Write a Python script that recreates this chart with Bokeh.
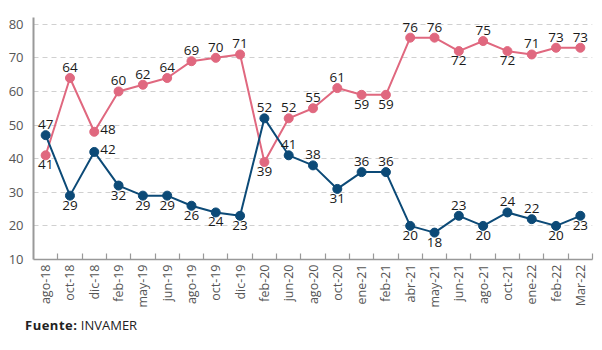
import math
from bokeh.plotting import figure
from bokeh.layouts import column
from bokeh.models import ColumnDataSource, LabelSet, Range1d, FixedTicker, Div
from bokeh.core.properties import value
from bokeh.embed import file_html
from bokeh.resources import INLINE

categories = ["ago-18", "oct-18", "dic-18", "feb-19", "may-19", "jun-19", "ago-19", "oct-19",
              "dic-19", "feb-20", "jun-20", "ago-20", "oct-20", "ene-21", "feb-21", "abr-21",
              "may-21", "jun-21", "ago-21", "oct-21", "ene-22", "feb-22", "Mar-22"]
pink_values = [41, 64, 48, 60, 62, 64, 69, 70, 71, 39, 52, 55, 61, 59, 59, 76, 76, 72, 75, 72, 71, 73, 73]
blue_values = [47, 29, 42, 32, 29, 29, 26, 24, 23, 52, 41, 38, 31, 36, 36, 20, 18, 23, 20, 24, 22, 20, 23]
y_ticks = [10, 20, 30, 40, 50, 60, 70, 80]

# label placement: a = above, b = below, r = right
pink_place = ["b", "a", "r", "a", "a", "a", "a", "a", "a", "b", "a", "a", "a", "b", "b", "a",
              "a", "b", "a", "b", "a", "a", "a"]
blue_place = ["a", "b", "r", "b", "b", "b", "b", "b", "b", "a", "a", "a", "b", "a", "a", "b",
              "b", "a", "b", "a", "a", "b", "b"]

PINK = "#E0687F"
BLUE = "#0C4A77"
FONT = "Open Sans"

n = len(categories)
xs = [i + 0.5 for i in range(n)]

p = figure(width=602, height=310, output_backend="svg", toolbar_location=None,
           x_range=Range1d(0, n), y_range=Range1d(10, 82),
           min_border_left=33, min_border_right=10, min_border_top=17, min_border_bottom=49)
p.outline_line_color = None
p.background_fill_color = "white"
p.border_fill_color = "white"

# axes
p.xaxis.ticker = FixedTicker(ticks=xs, minor_ticks=list(range(1, n + 1)))
p.xaxis.major_label_overrides = {x: c for x, c in zip(xs, categories)}
p.xaxis.major_label_orientation = math.pi / 2
p.xaxis.major_tick_in = 0
p.xaxis.major_tick_out = 0
p.xaxis.minor_tick_in = 6
p.xaxis.minor_tick_out = 0
p.xaxis.minor_tick_line_color = "#999999"
p.xaxis.minor_tick_line_width = 1.2
p.xaxis.axis_line_color = "#999999"
p.xaxis.axis_line_width = 1.5
p.xaxis.major_label_text_font = FONT
p.xaxis.major_label_text_font_size = "12.5px"
p.xaxis.major_label_text_color = "#555555"
p.xaxis.major_label_standoff = 5

p.yaxis.ticker = FixedTicker(ticks=y_ticks)
p.yaxis.major_tick_in = 0
p.yaxis.major_tick_out = 0
p.yaxis.minor_tick_line_color = None
p.yaxis.axis_line_color = "#999999"
p.yaxis.axis_line_width = 2
p.yaxis.major_label_text_font = FONT
p.yaxis.major_label_text_font_size = "13px"
p.yaxis.major_label_text_color = "#555555"
p.yaxis.major_label_standoff = 10

p.xgrid.grid_line_color = None
p.ygrid.ticker = FixedTicker(ticks=y_ticks[1:])
p.ygrid.grid_line_color = "#d0d0d0"
p.ygrid.grid_line_dash = "5 4"
p.ygrid.grid_line_width = 1


def add_series(values, places, color):
    src = ColumnDataSource(dict(x=xs, y=values))
    p.line("x", "y", source=src, line_color=color, line_width=2)
    p.scatter("x", "y", source=src, size=9, fill_color=color, line_color=color)
    for code, kw in (("a", dict(text_align="center", text_baseline="bottom", y_offset=6, x_offset=0)),
                     ("b", dict(text_align="center", text_baseline="top", y_offset=-5, x_offset=0)),
                     ("r", dict(text_align="left", text_baseline="middle", y_offset=2, x_offset=6))):
        idx = [i for i, c in enumerate(places) if c == code]
        if not idx:
            continue
        s = ColumnDataSource(dict(x=[xs[i] for i in idx], y=[values[i] for i in idx],
                                  t=[str(values[i]) for i in idx]))
        p.add_layout(LabelSet(x="x", y="y", text="t", source=s, text_font=value(FONT),
                              text_font_size=value("13.5px"), text_color="#1a1a1a",
                              text_align=kw["text_align"], text_baseline=kw["text_baseline"],
                              x_offset=kw["x_offset"], y_offset=kw["y_offset"]))


add_series(pink_values, pink_place, PINK)
add_series(blue_values, blue_place, BLUE)

source_div = Div(text="<b style='letter-spacing:0.5px'>Fuente:</b> INVAMER", width=602, height=40,
                 margin=0,
                 styles={"font-family": "Open Sans", "font-size": "13px", "color": "#222222",
                         "padding-left": "25px", "padding-top": "7px", "line-height": "16px",
                         "box-sizing": "border-box"})

layout = column(p, source_div, spacing=0)
open("out.html", "w").write(file_html(layout, INLINE))
